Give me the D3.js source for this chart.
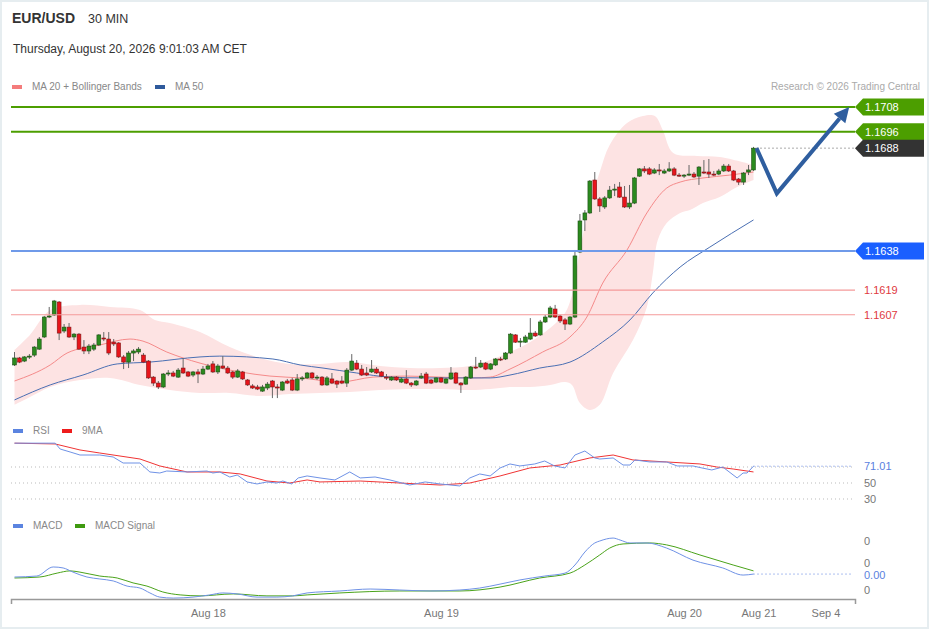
<!DOCTYPE html>
<html>
<head>
<meta charset="utf-8">
<script src="https://cdn.jsdelivr.net/npm/d3@7"></script>
<style>
  body { margin: 0; background: #fff; }
  svg { display: block; font-family: "Liberation Sans", Arial, sans-serif; }
</style>
</head>
<body>
<div id="chart"></div>
<script>
// ---- candles (30 min EUR/USD) ----
var candleOpen = [1.15826,1.15860,1.15845,1.15865,1.15874,1.15903,1.15962,1.16059,1.16069,1.16132,
  1.15991,1.16010,1.15962,1.15976,1.15913,1.15894,1.15903,1.15923,1.15957,1.15952,
  1.15937,1.15933,1.15865,1.15840,1.15884,1.15889,1.15874,1.15845,1.15767,1.15738,
  1.15719,1.15782,1.15787,1.15767,1.15811,1.15792,1.15777,1.15792,1.15782,1.15806,
  1.15831,1.15792,1.15821,1.15811,1.15792,1.15767,1.15792,1.15753,1.15724,1.15719,
  1.15699,1.15714,1.15748,1.15719,1.15704,1.15748,1.15753,1.15704,1.15758,1.15763,
  1.15787,1.15763,1.15767,1.15729,1.15758,1.15748,1.15748,1.15738,1.15801,1.15835,
  1.15806,1.15787,1.15792,1.15806,1.15792,1.15767,1.15753,1.15767,1.15743,1.15758,
  1.15738,1.15729,1.15763,1.15782,1.15753,1.15743,1.15763,1.15738,1.15758,1.15787,
  1.15738,1.15733,1.15763,1.15816,1.15816,1.15835,1.15806,1.15826,1.15855,1.15855,
  1.15884,1.15972,1.15937,1.15937,1.15952,1.15981,1.15972,1.16035,1.16059,1.16098,
  1.16064,1.16045,1.16025,1.16059,1.16375,1.16531,1.16565,1.16725,1.16633,1.16594,
  1.16638,1.16676,1.16691,1.16642,1.16594,1.16613,1.16744,1.16779,1.16779,1.16759,
  1.16774,1.16759,1.16769,1.16779,1.16749,1.16744,1.16749,1.16754,1.16744,1.16764,
  1.16764,1.16754,1.16754,1.16769,1.16793,1.16769,1.16730,1.16715,1.16764,1.16774];
var candleHigh = [1.15889,1.15865,1.15869,1.15879,1.15918,1.15962,1.16064,1.16108,1.16142,1.16137,
  1.16025,1.16030,1.15981,1.15981,1.15947,1.15928,1.15933,1.15976,1.15986,1.15986,
  1.15952,1.15937,1.15874,1.15894,1.15903,1.15913,1.15884,1.15850,1.15772,1.15748,
  1.15787,1.15801,1.15797,1.15811,1.15860,1.15797,1.15797,1.15806,1.15821,1.15831,
  1.15845,1.15831,1.15869,1.15821,1.15797,1.15806,1.15797,1.15758,1.15733,1.15729,
  1.15729,1.15743,1.15753,1.15733,1.15748,1.15758,1.15763,1.15782,1.15772,1.15792,
  1.15792,1.15777,1.15772,1.15772,1.15787,1.15753,1.15772,1.15811,1.15879,1.15850,
  1.15826,1.15816,1.15850,1.15816,1.15797,1.15782,1.15772,1.15772,1.15767,1.15801,
  1.15743,1.15753,1.15787,1.15792,1.15758,1.15767,1.15767,1.15763,1.15816,1.15792,
  1.15743,1.15772,1.15821,1.15865,1.15850,1.15840,1.15835,1.15860,1.15865,1.15889,
  1.15981,1.15976,1.15957,1.15972,1.16054,1.15991,1.16045,1.16069,1.16113,1.16118,
  1.16069,1.16054,1.16064,1.16385,1.16560,1.16579,1.16725,1.16764,1.16642,1.16647,
  1.16696,1.16706,1.16715,1.16696,1.16701,1.16740,1.16783,1.16793,1.16788,1.16783,
  1.16803,1.16779,1.16812,1.16788,1.16759,1.16754,1.16798,1.16764,1.16793,1.16822,
  1.16827,1.16769,1.16779,1.16803,1.16803,1.16774,1.16735,1.16764,1.16798,1.16886];
var candleLow = [1.15821,1.15835,1.15840,1.15855,1.15865,1.15899,1.15957,1.16054,1.16064,1.15947,
  1.15981,1.15957,1.15947,1.15899,1.15879,1.15879,1.15894,1.15918,1.15942,1.15874,
  1.15918,1.15860,1.15806,1.15811,1.15845,1.15879,1.15835,1.15758,1.15724,1.15709,
  1.15714,1.15772,1.15767,1.15763,1.15782,1.15767,1.15767,1.15738,1.15777,1.15801,
  1.15787,1.15782,1.15806,1.15782,1.15758,1.15763,1.15753,1.15724,1.15709,1.15704,
  1.15695,1.15704,1.15665,1.15665,1.15699,1.15733,1.15699,1.15699,1.15748,1.15758,
  1.15758,1.15753,1.15724,1.15724,1.15733,1.15714,1.15733,1.15719,1.15797,1.15801,
  1.15772,1.15772,1.15787,1.15782,1.15767,1.15753,1.15748,1.15748,1.15738,1.15733,
  1.15719,1.15724,1.15758,1.15733,1.15733,1.15738,1.15738,1.15733,1.15753,1.15733,
  1.15690,1.15729,1.15758,1.15806,1.15811,1.15801,1.15801,1.15821,1.15845,1.15850,
  1.15879,1.15933,1.15913,1.15933,1.15947,1.15962,1.15967,1.16030,1.16054,1.16054,
  1.16030,1.15996,1.16020,1.16054,1.16370,1.16477,1.16560,1.16628,1.16570,1.16584,
  1.16633,1.16647,1.16638,1.16589,1.16584,1.16608,1.16740,1.16759,1.16749,1.16754,
  1.16749,1.16754,1.16764,1.16744,1.16740,1.16735,1.16744,1.16735,1.16701,1.16754,
  1.16735,1.16744,1.16749,1.16764,1.16764,1.16720,1.16701,1.16701,1.16749,1.16769];
var candleClose = [1.15860,1.15840,1.15865,1.15869,1.15913,1.15952,1.16059,1.16064,1.16137,1.15981,
  1.16010,1.15962,1.15976,1.15903,1.15894,1.15918,1.15923,1.15972,1.15952,1.15884,
  1.15928,1.15865,1.15840,1.15884,1.15894,1.15903,1.15840,1.15763,1.15738,1.15719,
  1.15782,1.15787,1.15772,1.15801,1.15787,1.15772,1.15792,1.15782,1.15806,1.15821,
  1.15792,1.15821,1.15811,1.15787,1.15767,1.15797,1.15758,1.15729,1.15714,1.15709,
  1.15719,1.15733,1.15719,1.15714,1.15743,1.15738,1.15704,1.15758,1.15763,1.15787,
  1.15763,1.15767,1.15729,1.15763,1.15738,1.15733,1.15738,1.15801,1.15845,1.15806,
  1.15777,1.15777,1.15806,1.15787,1.15772,1.15763,1.15767,1.15753,1.15758,1.15738,
  1.15729,1.15748,1.15772,1.15738,1.15738,1.15763,1.15743,1.15758,1.15787,1.15738,
  1.15729,1.15767,1.15816,1.15811,1.15835,1.15806,1.15831,1.15855,1.15850,1.15884,
  1.15976,1.15937,1.15942,1.15962,1.15981,1.15967,1.16035,1.16059,1.16103,1.16059,
  1.16040,1.16025,1.16059,1.16356,1.16526,1.16565,1.16720,1.16633,1.16599,1.16638,
  1.16676,1.16681,1.16642,1.16594,1.16613,1.16735,1.16779,1.16769,1.16754,1.16774,
  1.16769,1.16769,1.16779,1.16749,1.16744,1.16749,1.16754,1.16740,1.16788,1.16759,
  1.16754,1.16749,1.16769,1.16793,1.16769,1.16725,1.16715,1.16759,1.16774,1.16880];

// ---- Bollinger bands / moving averages (sampled along candle index) ----
var bbUpperIdx = [0,3.1,7.2,13.2,19.3,25.3,28.3,31.3,37.4,43.4,49.5,55.5,61.6,67.6,73.7,79.7,85.8,91.8,95.9,99.9,
  103.9,108.0,111.0,112.4,114.0,116.0,118.0,120.0,123.5,126.7,129.1,130.7,132.8,137.6,142.2,149];
var bbUpper = [1.15899,1.15972,1.16093,1.16118,1.16108,1.16093,1.16045,1.16030,1.15986,1.15913,1.15860,1.15831,1.15831,1.15840,1.15821,1.15811,1.15811,1.15821,1.15850,1.15889,
  1.15937,1.16006,1.16079,1.16166,1.16385,1.16604,1.16764,1.16895,1.17002,1.17036,1.17036,1.16968,1.16856,1.16842,1.16837,1.16798];
var bbLowerIdx = [0,3.1,7.2,13.2,19.3,25.3,31.3,37.4,43.4,49.5,55.5,61.6,67.6,73.7,79.7,85.8,91.8,95.9,99.9,103.9,
  108.0,111.0,112.4,114.0,116.0,118.0,120.7,124.7,127.5,128.7,129.7,131.5,134.2,136.2,138.8,142.2,145.3,149];
var bbLower = [1.15632,1.15670,1.15719,1.15753,1.15763,1.15729,1.15704,1.15690,1.15690,1.15675,1.15685,1.15690,1.15695,1.15704,1.15709,1.15709,1.15704,1.15709,1.15719,1.15719,
  1.15729,1.15743,1.15729,1.15641,1.15607,1.15632,1.15787,1.15947,1.16108,1.16273,1.16433,1.16516,1.16565,1.16579,1.16613,1.16642,1.16686,1.16725];
var ma20Idx = [0,7.2,10.6,17.2,23.3,25.9,30.7,37.4,45.5,51.5,57.6,65.6,72.3,79.1,85.8,92.4,95.9,99.9,106.5,112.0,
  115.4,118.6,123.5,127.5,131.5,134.2,138.8,144.2,149];
var ma20 = [1.15748,1.15826,1.15884,1.15923,1.15952,1.15942,1.15889,1.15835,1.15792,1.15772,1.15763,1.15743,1.15767,1.15772,1.15767,1.15763,1.15767,1.15806,1.15889,1.15962,
  1.16059,1.16224,1.16385,1.16565,1.16686,1.16715,1.16735,1.16749,1.16764];
var ma50Idx = [0,7.2,13.8,20.7,27.3,37.4,41.4,52.1,57.6,62.2,69.0,75.7,82.4,89.8,95.9,99.9,105.9,112.0,118.6,124.1,
  128.7,134.2,140.2,149];
var ma50 = [1.15656,1.15729,1.15777,1.15831,1.15840,1.15865,1.15869,1.15855,1.15826,1.15811,1.15787,1.15767,1.15763,1.15763,1.15763,1.15777,1.15811,1.15840,1.15938,1.16045,
  1.16176,1.16302,1.16399,1.16531];

// ---- levels ----
var levelValues = [1.1708, 1.1696, 1.1638, 1.1619, 1.1607];
var levelKinds = ["res", "res", "sup", "minor", "minor"];
var lastPrice = 1.1688;

// ---- forecast arrow (candle index, price) ----
var arrowIdx = [149.6, 153.7, 168.3];
var arrowPrice = [1.16880, 1.16660, 1.17080];

// ---- RSI ----
var rsiIdx = [0,8.2,9.2,11.2,13.2,17.2,19.9,21.9,25.3,27.3,29.3,30.7,34.8,38.8,40.0,41.4,43.4,44.9,46.9,48.9,
  50.9,52.9,54.1,55.9,57.2,59.0,61.6,64.6,67.6,69.7,72.7,75.7,79.7,82.8,85.8,89.8,91.8,93.8,95.9,97.9,
  99.9,101.9,104.9,106.9,108.9,111.0,113.0,115.0,117.0,118.0,120.7,122.7,124.1,125.1,128.1,131.5,133.6,136.8,138.6,140.6,
  142.8,145.7,146.9,147.7,149];
var rsi = [99.8,99.8,92.5,88.8,85,85,82.5,75,75,63.8,62.5,65,63.8,65,62.5,63.8,57.5,60,51.3,48.8,
  51.3,50,52.5,48.8,56.3,58.8,56.3,53.8,63.8,56.3,57.5,53.8,47.5,51.3,48.8,46.3,56.3,61.3,58.8,68.8,
  73.8,71.3,73.8,77.5,71.3,68.8,85,90,81.3,80,81.3,72.5,72.5,78.8,76.3,76.3,71.3,71.3,68.8,66.3,
  70,56.3,62.5,62.5,71.01];
var rsiMaIdx = [0,8.2,13.2,17.2,25.3,29.3,34.8,41.4,45.5,50.9,55.5,59.0,61.6,69.7,77.7,85.8,91.8,97.9,103.9,110.0,
  116.0,120.7,124.7,131.5,138.2,141.6,144.9,149];
var rsiMa = [99.8,98.8,91.3,87.5,80,71.3,63.8,63.8,61.3,52.5,50,53.8,51.3,52.5,50,47.5,50,58.8,68.8,72.5,
  81.3,85,78.8,76.3,73.8,70,67.5,63.8];
var rsiTicks = [70, 50, 30];
var rsiLabelTicks = [50, 30];

// ---- MACD ----
var macdIdx = [0,4.5,7.8,9.8,11.8,14.6,17.2,19.9,22.7,25.3,27.3,29.3,32.0,36.0,39.4,42.0,44.9,48.9,52.9,56.1,
  59.0,65.6,71.7,77.7,83.8,89.8,93.8,97.9,101.9,106.9,111.0,113.0,115.0,117.0,118.0,120.7,122.1,124.1,127.5,131.5,
  136.8,142.8,146.9,149];
var macd = [0.00053,0.00057,0.00094,0.00090,0.00073,0.00053,0.00045,0.00037,0.00016,0.00008,-0.00012,-0.00029,-0.00033,-0.00029,-0.00020,-0.00012,-0.00016,-0.00029,-0.00029,-0.00024,
  -0.00012,-0.00004,0.00004,0.0,-0.00004,0.0,0.00008,0.00024,0.00041,0.00057,0.00069,0.00102,0.00155,0.00192,0.00200,0.00212,0.00204,0.00192,0.00192,0.00171,
  0.00122,0.00090,0.00061,0.00065];
var signalIdx = [0,5.1,8.6,11.2,13.2,17.2,20.7,23.9,26.7,29.9,33.4,37.4,44.1,50.9,56.1,59.0,65.6,77.7,89.8,97.9,
  105.9,112.0,115.0,118.0,120.0,122.7,128.1,131.5,138.2,144.9,149];
var signal = [0.00049,0.00053,0.00069,0.00078,0.00073,0.00057,0.00049,0.00029,0.00016,-0.00008,-0.00020,-0.00024,-0.00016,-0.00024,-0.00024,-0.00020,-0.00012,-0.00004,-0.00004,0.00012,
  0.00049,0.00069,0.00102,0.00143,0.00171,0.00188,0.00192,0.00184,0.00143,0.00102,0.00078];
var macdTicks = [0.002, 0.001, 0];

// ---- x axis ----
var tickIdx = [39, 86, 135, 150, 163.5];
var tickLabels = ["Aug 18", "Aug 19", "Aug 20", "Aug 21", "Sep 4"];

//Stablish svg size
var svgWidth = 929;
var svgHeight = 629;
var plotLeft = 11, plotRight = 855, labelX = 864;

var svg = d3.select("#chart")
  .append("svg")
  .attr("width", svgWidth)
  .attr("height", svgHeight);

svg.append("rect")
  .attr("x", 1).attr("y", 1)
  .attr("width", svgWidth - 2).attr("height", svgHeight - 2)
  .attr("fill", "#fff")
  .attr("stroke", "#e6edf0")
  .attr("stroke-width", 2);

//scales
var N = candleClose.length;
var xScale = d3.scaleLinear().domain([0, N - 1]).range([14.5, 753.5]);
var yPrice = d3.scaleLinear().domain([1.1638, 1.1708]).range([251, 107]);
var yRsi = d3.scaleLinear().domain([30, 70]).range([499, 467]);
var yMacd = d3.scaleLinear().domain([0, 0.002]).range([590, 541]);

//header
svg.append("text").attr("x", 12).attr("y", 23)
  .attr("font-size", 14).attr("font-weight", "bold").attr("fill", "#333")
  .text("EUR/USD");
svg.append("text").attr("x", 88).attr("y", 23)
  .attr("font-size", 12.5).attr("fill", "#333")
  .text("30 MIN");
svg.append("text").attr("x", 13).attr("y", 53)
  .attr("font-size", 12).attr("fill", "#333")
  .text("Thursday, August 20, 2026 9:01:03 AM CET");
svg.append("text").attr("x", 920).attr("y", 90)
  .attr("font-size", 10).attr("fill", "#aaa").attr("text-anchor", "end")
  .text("Research \u00a9 2026 Trading Central");

//legends
function legend(x, y, color, label) {
  svg.append("rect").attr("x", x).attr("y", y - 5).attr("width", 10).attr("height", 4).attr("fill", color);
  svg.append("text").attr("x", x + 20).attr("y", y).attr("font-size", 10).attr("fill", "#888").text(label);
}
legend(12, 90, "#f47c7c", "MA 20 + Bollinger Bands");
legend(155, 90, "#2f5a9c", "MA 50");
legend(13, 434, "#5b84e0", "RSI");
legend(62, 434, "#ee1c1c", "9MA");
legend(13, 529, "#5b84e0", "MACD");
legend(75, 529, "#3f9a10", "MACD Signal");

//bollinger band
var upperPts = bbUpperIdx.map((d, i) => [xScale(d), yPrice(bbUpper[i])]);
var lowerPts = bbLowerIdx.map((d, i) => [xScale(d), yPrice(bbLower[i])]).reverse();
var bandLine = d3.line().curve(d3.curveCatmullRom);
svg.append("path")
  .attr("d", bandLine(upperPts) + bandLine(lowerPts).replace(/^M/, "L") + "Z")
  .attr("fill", "#fde3e3");

var smooth = d3.line().curve(d3.curveMonotoneX);
svg.append("path")
  .attr("d", smooth(ma20Idx.map((d, i) => [xScale(d), yPrice(ma20[i])])))
  .attr("fill", "none").attr("stroke", "#f58a8a").attr("stroke-width", 1);
svg.append("path")
  .attr("d", smooth(ma50Idx.map((d, i) => [xScale(d), yPrice(ma50[i])])))
  .attr("fill", "none").attr("stroke", "#4a6fb3").attr("stroke-width", 1);

//candles
var candles = d3.range(N).map(i => ({
  i: i, o: candleOpen[i], h: candleHigh[i], l: candleLow[i], c: candleClose[i]
}));
var candleGroup = svg.append("g");
candleGroup.selectAll("line")
  .data(candles).enter().append("line")
  .attr("x1", d => xScale(d.i)).attr("x2", d => xScale(d.i))
  .attr("y1", d => yPrice(d.h)).attr("y2", d => yPrice(d.l))
  .attr("stroke", "#666").attr("stroke-width", 1);
candleGroup.selectAll("rect")
  .data(candles).enter().append("rect")
  .attr("x", d => xScale(d.i) - 1.9)
  .attr("width", 3.8)
  .attr("y", d => yPrice(Math.max(d.o, d.c)))
  .attr("height", d => Math.max(1, Math.abs(yPrice(d.o) - yPrice(d.c))))
  .attr("fill", d => d.c >= d.o ? "#2b8a1e" : "#e8141b")
  .attr("stroke", d => d.c >= d.o ? "#1c4f13" : "#7c1515")
  .attr("stroke-width", 0.6);

//level lines
var levelColor = { res: "#4c9e00", sup: "#6f9ae9", minor: "#f49a9a" };
var levelWidth = { res: 2, sup: 2, minor: 1.2 };
levelValues.forEach(function(v, i) {
  var k = levelKinds[i];
  svg.append("line")
    .attr("x1", plotLeft).attr("x2", plotRight)
    .attr("y1", yPrice(v)).attr("y2", yPrice(v))
    .attr("stroke", levelColor[k]).attr("stroke-width", levelWidth[k]);
});

//current price dotted line
svg.append("line")
  .attr("x1", xScale(N - 1) + 3).attr("x2", plotRight)
  .attr("y1", yPrice(lastPrice)).attr("y2", yPrice(lastPrice))
  .attr("stroke", "#555").attr("stroke-width", 1).attr("stroke-dasharray", "1,3");

//forecast arrow
var arrowPts = arrowIdx.map((d, i) => [xScale(d), yPrice(arrowPrice[i])]);
var a = arrowPts[1], b = arrowPts[2];
var ang = Math.atan2(b[1] - a[1], b[0] - a[0]);
var headLen = 15, headW = 7.5;
var base = [b[0] - headLen * Math.cos(ang), b[1] - headLen * Math.sin(ang)];
svg.append("path")
  .attr("d", d3.line()([arrowPts[0], arrowPts[1], base]))
  .attr("fill", "none").attr("stroke", "#2f5e9f").attr("stroke-width", 4)
  .attr("stroke-linejoin", "miter");
svg.append("path")
  .attr("d", d3.line()([
    b,
    [base[0] + headW * Math.sin(ang), base[1] - headW * Math.cos(ang)],
    [base[0] - headW * Math.sin(ang), base[1] + headW * Math.cos(ang)]
  ]) + "Z")
  .attr("fill", "#2f5e9f");

//price tags
function priceTag(v, color) {
  var y = yPrice(v);
  svg.append("path")
    .attr("d", d3.line()([[plotRight, y], [plotRight + 8, y - 8.5], [924, y - 8.5], [924, y + 8.5], [plotRight + 8, y + 8.5]]) + "Z")
    .attr("fill", color);
  svg.append("text").attr("x", labelX + 1).attr("y", y + 4)
    .attr("font-size", 11).attr("fill", "#fff").text(d3.format(".4f")(v));
}
var tagColor = { res: "#4c9e00", sup: "#1a5fff" };
levelValues.forEach(function(v, i) {
  var k = levelKinds[i];
  if (k === "minor") {
    svg.append("text").attr("x", labelX).attr("y", yPrice(v) + 4)
      .attr("font-size", 11).attr("fill", "#e0393e").text(d3.format(".4f")(v));
  } else {
    priceTag(v, tagColor[k]);
  }
});
priceTag(lastPrice, "#333");

//RSI panel
rsiTicks.forEach(function(t) {
  svg.append("line")
    .attr("x1", plotLeft).attr("x2", 852)
    .attr("y1", yRsi(t)).attr("y2", yRsi(t))
    .attr("stroke", "#bbb").attr("stroke-width", 1).attr("stroke-dasharray", "1,3");
});
rsiLabelTicks.forEach(function(t) {
  svg.append("text").attr("x", labelX).attr("y", yRsi(t) + 4)
    .attr("font-size", 11).attr("fill", "#777").text(t);
});
svg.append("path")
  .attr("d", d3.line()(rsiMaIdx.map((d, i) => [xScale(d), yRsi(rsiMa[i])])))
  .attr("fill", "none").attr("stroke", "#f03434").attr("stroke-width", 1);
svg.append("path")
  .attr("d", d3.line()(rsiIdx.map((d, i) => [xScale(d), yRsi(rsi[i])])))
  .attr("fill", "none").attr("stroke", "#6f92e6").attr("stroke-width", 1);
var rsiLast = rsi[rsi.length - 1];
svg.append("line")
  .attr("x1", xScale(N - 1)).attr("x2", 852)
  .attr("y1", yRsi(rsiLast)).attr("y2", yRsi(rsiLast))
  .attr("stroke", "#5b7fe0").attr("stroke-width", 1).attr("stroke-dasharray", "1,3");
svg.append("rect").attr("x", labelX - 2).attr("y", yRsi(rsiLast) - 7)
  .attr("width", 34).attr("height", 13).attr("fill", "#fff");
svg.append("text").attr("x", labelX).attr("y", yRsi(rsiLast) + 4)
  .attr("font-size", 11).attr("fill", "#5b7fe0").text(d3.format(".2f")(rsiLast));

//MACD panel
macdTicks.forEach(function(t, i) {
  svg.append("text").attr("x", labelX).attr("y", yMacd(t) + (i === 1 ? 1.5 : 4))
    .attr("font-size", 11).attr("fill", "#777").text(d3.format(".0f")(t));
});
svg.append("path")
  .attr("d", smooth(signalIdx.map((d, i) => [xScale(d), yMacd(signal[i])])))
  .attr("fill", "none").attr("stroke", "#4aa31a").attr("stroke-width", 1);
svg.append("path")
  .attr("d", smooth(macdIdx.map((d, i) => [xScale(d), yMacd(macd[i])])))
  .attr("fill", "none").attr("stroke", "#6f92e6").attr("stroke-width", 1);
var macdLast = macd[macd.length - 1];
svg.append("line")
  .attr("x1", xScale(N - 1)).attr("x2", 852)
  .attr("y1", yMacd(macdLast)).attr("y2", yMacd(macdLast))
  .attr("stroke", "#5b7fe0").attr("stroke-width", 1).attr("stroke-dasharray", "1,3");
svg.append("rect").attr("x", labelX - 2).attr("y", yMacd(macdLast) - 4)
  .attr("width", 30).attr("height", 11).attr("fill", "#fff");
svg.append("text").attr("x", labelX).attr("y", yMacd(macdLast) + 5)
  .attr("font-size", 11).attr("fill", "#5b7fe0").text(d3.format(".2f")(macdLast));

//x axis
var axisScale = d3.scaleLinear()
  .domain([xScale.invert(plotLeft), xScale.invert(plotRight)])
  .range([plotLeft, plotRight]);
var bottomAxis = d3.axisBottom(axisScale)
  .tickValues(tickIdx)
  .tickFormat((d, i) => tickLabels[i])
  .tickSizeInner(0)
  .tickSizeOuter(5)
  .tickPadding(10);
var xAxis = svg.append("g")
  .attr("transform", "translate(0, 599)")
  .call(bottomAxis);
xAxis.attr("font-family", null);
xAxis.select(".domain").attr("stroke", "#999").attr("stroke-width", 1.5);
xAxis.selectAll("text").attr("font-size", 11).attr("fill", "#777");
</script>
</body>
</html>
